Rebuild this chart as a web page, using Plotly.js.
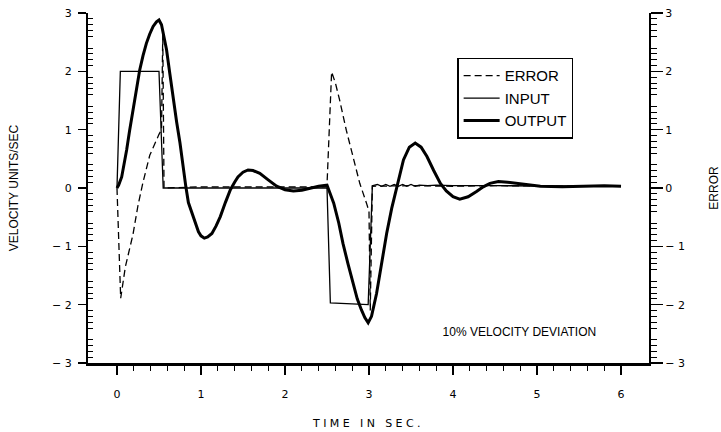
<!DOCTYPE html>
<html>
<head>
<meta charset="utf-8">
<script src="https://cdn.plot.ly/plotly-3.0.1.min.js"></script>
<style>
  html, body { margin: 0; padding: 0; background: #fff; }
  #chart { width: 721px; height: 432px; }
  .xtitle { letter-spacing: 3.4px; }
</style>
</head>
<body>
<div id="chart"></div>
<script>
// ---- data ----
const inputT = [0, 0.04, 0.5, 0.55, 2.5, 2.54, 2.99, 3.04, 3.1, 3.15, 3.2, 3.25, 3.3, 3.35, 3.4, 3.45, 3.5, 3.55, 3.6, 3.7, 3.8, 3.9, 4.0, 4.5, 5.0, 5.5, 6.0];
const inputV = [0, 2.0, 2.0, 0, 0, -1.97, -2.0, 0.04, 0.06, 0.03, 0.06, 0.03, 0.06, 0.03, 0.06, 0.03, 0.06, 0.03, 0.05, 0.04, 0.05, 0.04, 0.04, 0.04, 0.03, 0.03, 0.03];

const outputT = [0, 0.02, 0.056, 0.085, 0.115, 0.15, 0.19, 0.23, 0.27, 0.31, 0.35, 0.39, 0.43, 0.47, 0.5, 0.53, 0.56, 0.59, 0.63, 0.67, 0.71, 0.75, 0.78, 0.82, 0.85, 0.89, 0.93, 0.97, 1.0, 1.04, 1.08, 1.13, 1.18, 1.23, 1.29, 1.35, 1.4, 1.44, 1.5, 1.56, 1.62, 1.7, 1.8, 1.9, 2.0, 2.1, 2.2, 2.3, 2.4, 2.5, 2.54, 2.58, 2.64, 2.69, 2.75, 2.81, 2.86, 2.91, 2.95, 2.99, 3.03, 3.09, 3.15, 3.21, 3.27, 3.33, 3.41, 3.48, 3.55, 3.62, 3.69, 3.77, 3.85, 3.92, 4.0, 4.08, 4.18, 4.28, 4.36, 4.44, 4.54, 4.65, 4.8, 5.04, 5.3, 5.6, 5.8, 6.0];
const outputV = [0, 0.05, 0.19, 0.4, 0.65, 0.98, 1.34, 1.7, 2.02, 2.27, 2.48, 2.64, 2.77, 2.85, 2.88, 2.8, 2.6, 2.37, 1.95, 1.51, 1.13, 0.77, 0.43, 0.02, -0.25, -0.43, -0.61, -0.75, -0.82, -0.86, -0.84, -0.78, -0.65, -0.49, -0.25, -0.03, 0.1, 0.19, 0.27, 0.31, 0.3, 0.25, 0.14, 0.03, -0.03, -0.05, -0.04, 0.0, 0.03, 0.05, -0.1, -0.26, -0.6, -0.95, -1.3, -1.63, -1.9, -2.09, -2.22, -2.31, -2.2, -1.81, -1.3, -0.78, -0.35, 0.02, 0.48, 0.7, 0.77, 0.7, 0.54, 0.3, 0.08, -0.05, -0.15, -0.19, -0.15, -0.06, 0.02, 0.08, 0.11, 0.1, 0.07, 0.03, 0.02, 0.03, 0.04, 0.03];

const errorT = [0, 0.044, 0.1, 0.19, 0.25, 0.31, 0.39, 0.43, 0.5, 0.53, 0.545, 0.56, 1.0, 1.5, 2.0, 2.48, 2.5, 2.555, 2.6, 2.65, 2.73, 2.81, 2.89, 2.97, 3.0, 3.015, 3.04, 3.5, 4.0, 4.5, 5.0, 5.5, 6.0];
const errorV = [0, -1.89, -1.35, -0.8, -0.3, 0.1, 0.56, 0.7, 0.92, 1.0, 2.65, 0, 0.02, 0.02, 0.02, 0.02, 0.05, 1.99, 1.8, 1.51, 0.99, 0.54, 0.08, -0.26, -0.4, -2.1, 0.03, 0.04, 0.03, 0.04, 0.03, 0.03, 0.03];

const xTickVals = [0, 1, 2, 3, 4, 5, 6];
const xTickText = ['0', '1', '2', '3', '4', '5', '6'];
const yTickVals = [-3, -2, -1, 0, 1, 2, 3];
const yTickText = ['\u2212 3', '\u2212 2', '\u2212 1', '0', '1', '2', '3'];

const seriesNames = ['ERROR', 'INPUT', 'OUTPUT'];
const yTitle = 'VELOCITY UNITS/SEC';
const y2Title = 'ERROR';
const xTitle = 'TIME IN SEC.';
const noteText = '10% VELOCITY DEVIATION';
const noteX = [4.79];
const noteY = [-2.49];

// tick position lists (axis decoration only)
const xMinor = [];
for (let i = 0; i <= 30; i++) { if (i % 5 !== 0) xMinor.push(+(i * 0.2).toFixed(2)); }
const yMinor = [];
for (let i = -30; i <= 30; i++) { if (i % 5 !== 0) yMinor.push(+(i * 0.1).toFixed(2)); }

const tickFont = { family: 'DejaVu Sans, sans-serif', size: 11, color: '#000' };

const traces = [
  { x: errorT, y: errorV, name: seriesNames[0], yaxis: 'y2', type: 'scatter', mode: 'lines',
    line: { color: '#000', width: 1.3, dash: '7px,4px' } },
  { x: inputT, y: inputV, name: seriesNames[1], type: 'scatter', mode: 'lines',
    line: { color: '#000', width: 1.3 } },
  { x: outputT, y: outputV, name: seriesNames[2], type: 'scatter', mode: 'lines',
    line: { color: '#000', width: 3 } },
  { x: noteX, y: noteY, text: [noteText], type: 'scatter', mode: 'text', showlegend: false, hoverinfo: 'skip',
    textposition: 'middle center',
    textfont: { family: 'Liberation Sans Narrow, Liberation Sans, Arial, sans-serif', size: 12, color: '#000' } }
];

const layout = {
  width: 721, height: 432, paper_bgcolor: '#fff', plot_bgcolor: '#fff',
  margin: { l: 88, r: 72, t: 13, b: 69 },
  showlegend: true,
  legend: {
    x: 0.658, y: 0.872, xanchor: 'left', yanchor: 'top',
    bgcolor: '#fff', bordercolor: '#000', borderwidth: 1.5, itemwidth: 36,
    font: { family: 'Liberation Sans, Arial, sans-serif', size: 15, color: '#000' }
  },
  xaxis: {
    range: [-0.345, 6.333], showgrid: false, zeroline: false,
    showline: true, linecolor: '#000', linewidth: 3, automargin: false,
    ticks: 'outside', ticklen: 9, tickwidth: 1.5, tickcolor: '#000',
    tickmode: 'array', tickvals: xTickVals, ticktext: xTickText,
    tickfont: tickFont, ticklabelstandoff: 10,
    minor: { tickmode: 'array', tickvals: xMinor, ticks: 'outside', ticklen: 5, tickwidth: 1, tickcolor: '#000' },
    title: { text: xTitle, font: { family: 'DejaVu Sans, sans-serif', size: 11, color: '#000' }, standoff: 20 }
  },
  yaxis: {
    range: [-3, 3], showgrid: false, zeroline: false,
    showline: true, linecolor: '#000', linewidth: 2, automargin: false,
    ticks: 'outside', ticklen: 8, tickwidth: 1.5, tickcolor: '#000',
    tickmode: 'array', tickvals: yTickVals, ticktext: yTickText,
    tickfont: tickFont, ticklabelstandoff: 4,
    minor: { tickmode: 'array', tickvals: yMinor, ticks: 'inside', ticklen: 5, tickwidth: 1, tickcolor: '#000' },
    title: { text: yTitle, font: { family: 'Liberation Sans, Arial, sans-serif', size: 12, color: '#000' }, standoff: 31 }
  },
  yaxis2: {
    overlaying: 'y', side: 'right', anchor: 'x', range: [-3, 3], showgrid: false, zeroline: false,
    showline: true, linecolor: '#000', linewidth: 2, automargin: false,
    ticks: 'outside', ticklen: 12, tickwidth: 1.5, tickcolor: '#000',
    tickmode: 'array', tickvals: yTickVals, ticktext: yTickText,
    tickfont: tickFont, ticklabelstandoff: 0,
    minor: { tickmode: 'array', tickvals: yMinor, ticks: 'outside', ticklen: 6, tickwidth: 1, tickcolor: '#000' },
    title: { text: y2Title, font: { family: 'Liberation Sans, Arial, sans-serif', size: 12, color: '#000' }, standoff: 28 }
  }
};

Plotly.newPlot('chart', traces, layout, { staticPlot: true });
</script>
</body>
</html>
